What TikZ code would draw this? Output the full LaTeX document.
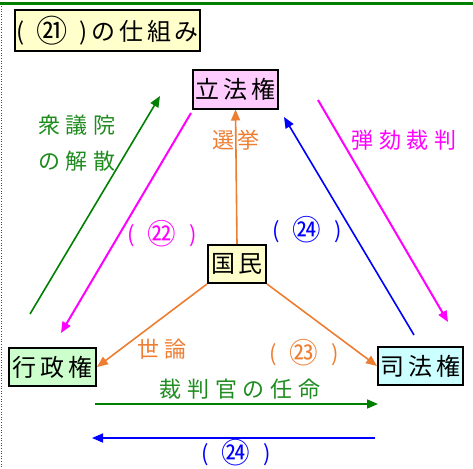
\documentclass[tikz,border=0pt]{standalone}
\usepackage{fontspec}
\setmainfont{Noto Sans CJK JP}
\newfontfamily\labfont{Noto Sans CJK JP}[LetterSpace=26]
\newfontfamily\boxfont{Noto Sans CJK JP}[LetterSpace=16]
\usetikzlibrary{arrows.meta}
\definecolor{dgreen}{HTML}{008000}
\definecolor{tgreen}{HTML}{1E8C1E}
\definecolor{orng}{HTML}{ED7D31}
\definecolor{mag}{HTML}{FF00FF}
\definecolor{lyellow}{HTML}{FFFFCC}
\definecolor{lpink}{HTML}{FFCCFF}
\definecolor{lgreen}{HTML}{CCFFCC}
\definecolor{lcyan}{HTML}{CCFFFF}
\newcommand{\cnum}[1]{\raisebox{-2.5pt}{\scalebox{1.3}{#1}}}
\newcommand{\paren}[1]{(\hspace{13pt}\cnum{#1}\hspace{13pt})}
\begin{document}
\begin{tikzpicture}[x=1pt,y=-1pt,
  box/.style={draw=black,line width=2pt,inner sep=0pt,minimum height=38pt,font=\boxfont\fontsize{24}{26}\selectfont},
  lab/.style={inner sep=0pt,font=\labfont\fontsize{22}{36}\selectfont},
  arr/.style={line width=1.6pt,-{Triangle[length=11pt,width=9pt]}}]
\useasboundingbox (0,0) rectangle (473,468);
\draw[dgreen,line width=3.5pt] (0,3.7) -- (473,3.7);
\draw[dgreen,dotted,line width=0.6pt] (1.5,6) -- (1.5,468);
\node[box,fill=lyellow,minimum width=185pt,minimum height=41pt] (title) at (107.5,31) {(\hspace{12pt}\cnum{㉑}\hspace{12pt})の仕組み};
\node[box,fill=lpink,minimum width=85pt] (leg) at (235.5,89.5) {立法権};
\node[box,fill=lyellow,minimum width=58pt] (kokumin) at (237,264) {国民};
\node[box,fill=lgreen,minimum width=87pt] (gyo) at (52.5,367) {行政権};
\node[box,fill=lcyan,minimum width=85pt] (shi) at (420.5,366) {司法権};
\coordinate (a1) at (30,314); \coordinate (a2) at (160,96);
\coordinate (m1) at (191,113); \coordinate (m2) at (61,333);
\coordinate (b1) at (414,335); \coordinate (b2) at (284,117);
\coordinate (j1) at (318,100); \coordinate (j2) at (448,322);
\coordinate (h1) at (95,404); \coordinate (h2) at (378,404);
\coordinate (k1) at (375,438); \coordinate (k2) at (92,438);
\draw[arr,dgreen] (a1) -- (a2);
\draw[arr,mag,line width=2pt] (m1) -- (m2);
\draw[arr,blue] (b1) -- (b2);
\draw[arr,mag,line width=2pt] (j1) -- (j2);
\draw[arr,dgreen] (h1) -- (h2);
\draw[arr,blue] (k1) -- (k2);
\draw[arr,orng] (kokumin.north) -- (leg.south);
\draw[arr,orng] (kokumin.south west) -- (gyo.east);
\draw[arr,orng] (kokumin.south east) -- (shi.west);
\node[lab,orng] (l1) at (236,140) {選\hspace{4pt}挙};
\node[lab,tgreen,align=left] (l2) at (77,143) {衆議院\\の解散};
\node[lab,mag] (l3) at (162,234) {\paren{㉒}};
\node[lab,blue] (l4) at (307,230) {\paren{㉔}};
\node[lab,mag] (l5) at (404,140) {弾劾裁判};
\node[lab,orng] (l6) at (162,349) {世論};
\node[lab,orng] (l7) at (304,353) {\paren{㉓}};
\node[lab,tgreen] (l8) at (240,389) {裁判官の任命};
\node[lab,blue] (l9) at (236,453) {\paren{㉔}};
\end{tikzpicture}
\end{document}
